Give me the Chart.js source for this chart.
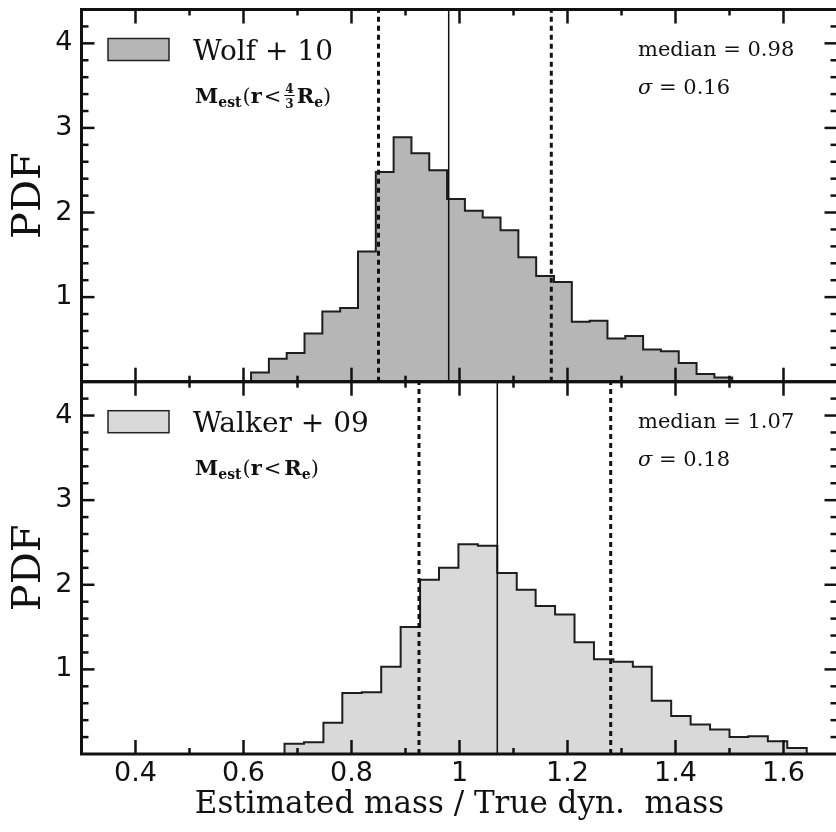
<!DOCTYPE html>
<html>
<head>
<meta charset="utf-8">
<script src="https://cdn.jsdelivr.net/npm/chart.js@4.4.1/dist/chart.umd.min.js"></script>
<style>
  html, body { margin: 0; padding: 0; background: #fff; overflow: hidden; }
  #wrap { position: relative; width: 836px; height: 832px; overflow: hidden; }
  #wrap canvas { position: absolute; left: 0; top: 0; }
</style>
</head>
<body>
<div id="wrap">
  <canvas id="topChart" width="840" height="832"></canvas>
  <canvas id="bottomChart" width="840" height="832"></canvas>
</div>
<script>
// histogram bin edges and PDF values
const wolfEdges = [0.614, 0.647, 0.680, 0.713, 0.746, 0.779, 0.812, 0.845, 0.878, 0.911,
                   0.944, 0.977, 1.010, 1.043, 1.076, 1.109, 1.142, 1.175, 1.208, 1.241,
                   1.274, 1.307, 1.340, 1.373, 1.406, 1.439, 1.472, 1.505];
const wolfPdf = [0.11, 0.27, 0.34, 0.57, 0.83, 0.87, 1.54, 2.48, 2.89, 2.70,
                 2.50, 2.16, 2.02, 1.94, 1.79, 1.47, 1.25, 1.18, 0.71, 0.72,
                 0.51, 0.54, 0.38, 0.36, 0.22, 0.09, 0.05];
const walkerEdges = [0.676, 0.712, 0.748, 0.783, 0.819, 0.855, 0.891, 0.927, 0.962, 0.998,
                     1.034, 1.070, 1.106, 1.141, 1.177, 1.213, 1.249, 1.285, 1.321, 1.356,
                     1.392, 1.428, 1.464, 1.500, 1.535, 1.571, 1.607, 1.643];
const walkerPdf = [0.12, 0.14, 0.37, 0.72, 0.73, 1.03, 1.50, 2.06, 2.20, 2.48,
                   2.46, 2.14, 1.94, 1.75, 1.65, 1.32, 1.12, 1.09, 1.03, 0.63,
                   0.45, 0.35, 0.29, 0.20, 0.21, 0.15, 0.07];

// median and the dashed interval lines
const wolfMedian = 0.98;
const wolfBand = [0.85, 1.17];
const walkerMedian = 1.07;
const walkerBand = [0.925, 1.28];

// axes
const xRange = [0.3, 1.7];
const yRange = [0, 4.4];
const xMajor = [0.4, 0.6, 0.8, 1.0, 1.2, 1.4, 1.6];
const xMinor = [0.5, 0.7, 0.9, 1.1, 1.3, 1.5];
const yMajor = [1, 2, 3, 4];
const yMinor = [0.2, 0.4, 0.6, 0.8, 1.2, 1.4, 1.6, 1.8, 2.2, 2.4, 2.6, 2.8,
                3.2, 3.4, 3.6, 3.8, 4.2];

const SERIF = '"DejaVu Serif", "Liberation Serif", serif';
const SANS = '"DejaVu Sans", sans-serif';
const INK = '#111';

function histPoints(edges, pdf) {
    const pts = [{ x: edges[0], y: 0 }];
    pdf.forEach((h, i) => {
        pts.push({ x: edges[i], y: h });
        pts.push({ x: edges[i + 1], y: h });
    });
    pts.push({ x: edges[edges.length - 1], y: 0 });
    return pts;
}

function vline(v, dashed) {
    return {
        data: [{ x: v, y: yRange[0] }, { x: v, y: yRange[1] }],
        borderColor: INK,
        borderWidth: dashed ? 3 : 1.5,
        borderDash: dashed ? [5, 4] : [],
        pointRadius: 0,
        fill: false,
        order: 1
    };
}

// draw a run of text pieces (for the small math labels)
function drawRuns(ctx, x, base, runs) {
    runs.forEach(r => {
        if (r.frac) {
            ctx.font = r.font;
            const w = Math.max(ctx.measureText(r.frac[0]).width, ctx.measureText(r.frac[1]).width);
            ctx.textAlign = 'center';
            ctx.fillText(r.frac[0], x + w / 2 + 1, base - 10);
            ctx.fillText(r.frac[1], x + w / 2 + 1, base + 5);
            ctx.fillRect(x, base - 7.5, w + 2, 1);
            ctx.textAlign = 'left';
            x += w + 4;
            return;
        }
        ctx.font = r.font;
        ctx.fillText(r.t, x, base + (r.dy || 0));
        x += ctx.measureText(r.t).width + (r.gap || 0);
    });
}

const panelDecor = {
    id: 'panelDecor',
    afterDatasetsDraw(chart, args, opts) {
        const { ctx, chartArea: a, scales: { x, y } } = chart;
        ctx.save();
        ctx.strokeStyle = INK;
        ctx.fillStyle = INK;
        ctx.lineCap = 'butt';

        const seg = (x1, y1, x2, y2) => {
            ctx.beginPath(); ctx.moveTo(x1, y1); ctx.lineTo(x2, y2); ctx.stroke();
        };

        // inward ticks on all four sides
        ctx.lineWidth = 2.5;
        xMajor.concat(xMinor).forEach(v => {
            const len = xMajor.includes(v) ? 14 : 6;
            const px = x.getPixelForValue(v);
            seg(px, a.bottom, px, a.bottom - len);
            seg(px, a.top, px, a.top + len);
        });
        yMajor.concat(yMinor).forEach(v => {
            const len = yMajor.includes(v) ? 13 : 7;
            const py = y.getPixelForValue(v);
            seg(a.left, py, a.left + len, py);
            seg(a.right, py, a.right - len, py);
        });

        // frame
        ctx.lineWidth = 3;
        ctx.strokeRect(a.left, a.top, a.right - a.left, a.bottom - a.top);

        // legend box and label
        ctx.fillStyle = opts.fill;
        ctx.fillRect(108, a.top + 29, 61, 22);
        ctx.lineWidth = 1.5;
        ctx.strokeStyle = '#222';
        ctx.strokeRect(108, a.top + 29, 61, 22);

        ctx.fillStyle = INK;
        ctx.textBaseline = 'alphabetic';
        ctx.textAlign = 'left';
        ctx.font = '28px ' + SERIF;
        ctx.fillText(opts.label, 193, a.top + 50);

        drawRuns(ctx, 195, a.top + 93, opts.mass);

        // median and sigma
        ctx.font = '21px ' + SERIF;
        ctx.fillText('median = ' + opts.median, 638, a.top + 46);
        ctx.font = 'italic 21px ' + SERIF;
        ctx.fillText('σ', 638, a.top + 84);
        const sw = ctx.measureText('σ').width;
        ctx.font = '21px ' + SERIF;
        ctx.fillText(' = ' + opts.sigma, 638 + sw, a.top + 84);

        ctx.restore();
    }
};

function makeChart(id, edges, pdf, median, band, fill, showX, decor) {
    const ctx = document.getElementById(id).getContext('2d');
    return new Chart(ctx, {
        type: 'line',
        data: {
            datasets: [
                vline(median, false),
                vline(band[0], true),
                vline(band[1], true),
                {
                    data: histPoints(edges, pdf),
                    borderColor: '#1e1e1e',
                    borderWidth: 2,
                    backgroundColor: fill,
                    fill: 'origin',
                    pointRadius: 0,
                    tension: 0,
                    order: 2
                }
            ]
        },
        options: {
            responsive: false,
            animation: false,
            events: [],
            layout: {
                padding: showX
                    ? { left: 0, right: 2.5, top: 381.7, bottom: 0 }
                    : { left: 0, right: 2.5, top: 9.5, bottom: 450.3 }
            },
            plugins: {
                legend: { display: false },
                tooltip: { enabled: false },
                panelDecor: decor
            },
            scales: {
                x: {
                    type: 'linear',
                    min: xRange[0],
                    max: xRange[1],
                    display: showX,
                    border: { display: false },
                    grid: { display: false, drawTicks: false },
                    afterBuildTicks: s => { s.ticks = xMajor.map(v => ({ value: v })); },
                    afterFit: s => {
                        s.height = showX ? 78 : 0;
                        s.paddingLeft = 0; s.paddingRight = 0;
                    },
                    ticks: {
                        color: INK,
                        padding: 4,
                        font: { family: SANS, size: 27 },
                        callback: v => String(Math.round(v * 10) / 10)
                    },
                    title: {
                        display: true,
                        text: 'Estimated mass / True dyn.  mass',
                        color: INK,
                        font: { family: SERIF, size: 31 },
                        padding: { top: 0, bottom: 8 }
                    }
                },
                y: {
                    min: yRange[0],
                    max: yRange[1],
                    border: { display: false },
                    grid: { display: false, drawTicks: false },
                    afterBuildTicks: s => { s.ticks = yMajor.map(v => ({ value: v })); },
                    afterFit: s => {
                        s.width = 81.5;
                        s.paddingTop = 0; s.paddingBottom = 0;
                    },
                    ticks: {
                        color: INK,
                        padding: 9,
                        font: { family: SANS, size: 27 }
                    },
                    title: {
                        display: true,
                        text: 'PDF',
                        color: INK,
                        font: { family: SERIF, size: 40 },
                        padding: { top: 6, bottom: 0 }
                    }
                }
            }
        },
        plugins: [panelDecor]
    });
}

const BOLD = 'bold 21px ' + SERIF;
const BOLD_SUB = 'bold 14px ' + SERIF;
const REG = '21px ' + SERIF;

makeChart('topChart', wolfEdges, wolfPdf, wolfMedian, wolfBand, '#b6b6b6', false, {
    label: 'Wolf + 10',
    fill: '#b6b6b6',
    median: '0.98',
    sigma: '0.16',
    mass: [
        { t: 'M', font: BOLD },
        { t: 'est', font: BOLD_SUB, dy: 4, gap: 1 },
        { t: '(', font: REG },
        { t: 'r', font: BOLD, gap: 2 },
        { t: '<', font: REG, gap: 3 },
        { frac: ['4', '3'], font: 'bold 12px ' + SERIF },
        { t: 'R', font: BOLD },
        { t: 'e', font: BOLD_SUB, dy: 4 },
        { t: ')', font: REG }
    ]
});

makeChart('bottomChart', walkerEdges, walkerPdf, walkerMedian, walkerBand, '#d9d9d9', true, {
    label: 'Walker + 09',
    fill: '#d9d9d9',
    median: '1.07',
    sigma: '0.18',
    mass: [
        { t: 'M', font: BOLD },
        { t: 'est', font: BOLD_SUB, dy: 4, gap: 1 },
        { t: '(', font: REG },
        { t: 'r', font: BOLD, gap: 2 },
        { t: '<', font: REG, gap: 3 },
        { t: 'R', font: BOLD },
        { t: 'e', font: BOLD_SUB, dy: 4 },
        { t: ')', font: REG }
    ]
});
</script>
</body>
</html>
